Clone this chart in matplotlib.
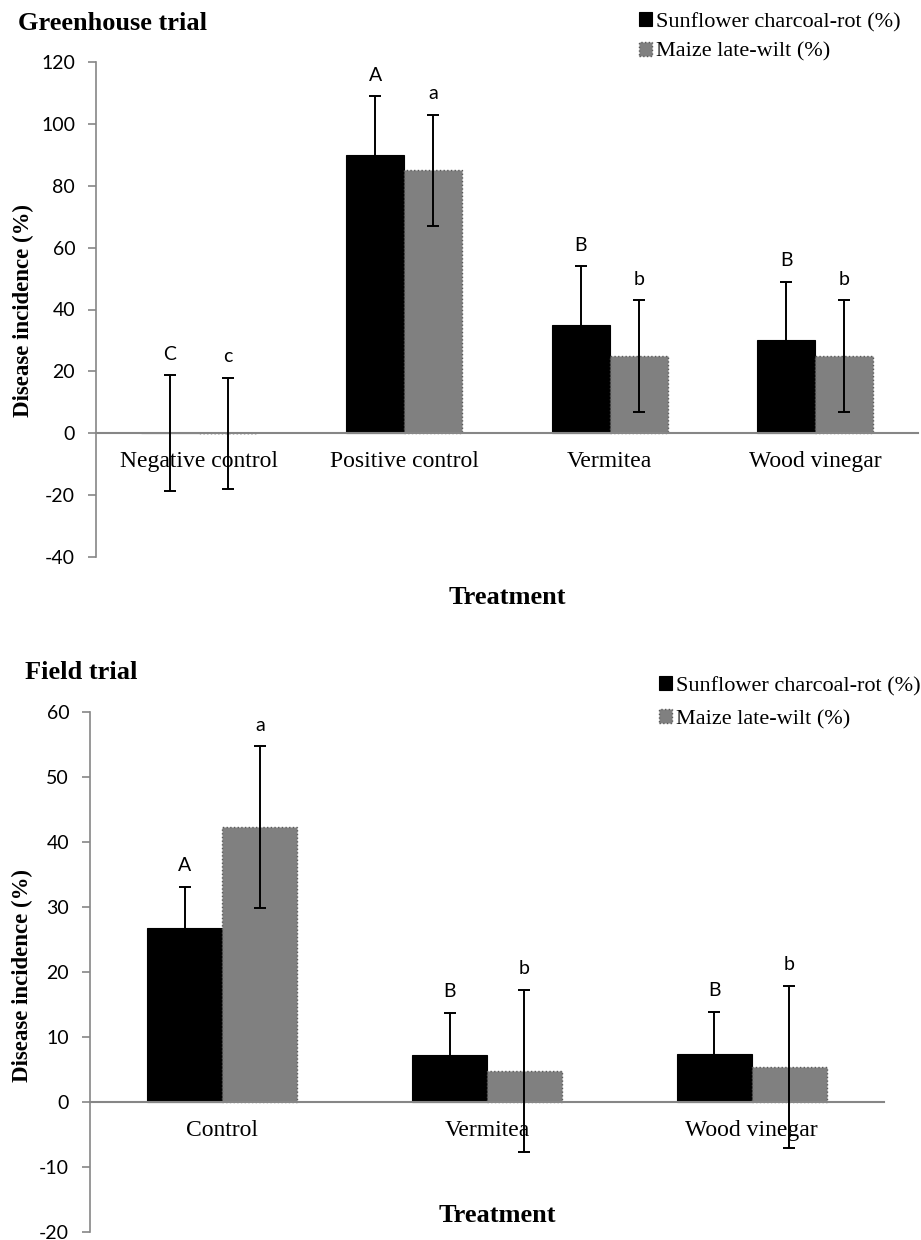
import matplotlib.pyplot as plt
import numpy as np

plt.rcParams['axes.unicode_minus'] = False

# Greenhouse trial
gh_treatments = ["Negative control", "Positive control", "Vermitea", "Wood vinegar"]
gh_sunflower = [0, 90, 35, 30]
gh_sunflower_err = [18.7, 19, 19, 19]
gh_maize = [0, 85, 25, 25]
gh_maize_err = [18, 18, 18, 18]
gh_sun_letters = ["C", "A", "B", "B"]
gh_maize_letters = ["c", "a", "b", "b"]

# Field trial
fd_treatments = ["Control", "Vermitea", "Wood vinegar"]
fd_sunflower = [26.7, 7.2, 7.4]
fd_sunflower_err = [6.4, 6.5, 6.5]
fd_maize = [42.3, 4.8, 5.4]
fd_maize_err = [12.4, 12.5, 12.5]
fd_sun_letters = ["A", "B", "B"]
fd_maize_letters = ["a", "b", "b"]

series_names = ["Sunflower charcoal-rot (%)", "Maize late-wilt (%)"]

serif = "Liberation Serif"
sans = "Lato"
axis_grey = "#868686"
W = 921
H = 1240


def fx(px):
    return px / W


def fy(px):
    return 1 - px / H


def draw_panel(ax, cats, sun, sun_err, maize, maize_err, sun_lab, maize_lab,
               ylim, yticks, width=0.283):
    x = np.arange(len(cats))
    ax.bar(x - width / 2, sun, width, color="black", edgecolor="black",
           linewidth=0.8, label=series_names[0], zorder=2)
    ax.bar(x + width / 2, maize, width, color="#808080", edgecolor="#5a5a5a",
           linewidth=1.0, linestyle=":", label=series_names[1], zorder=2)
    ax.errorbar(x - width / 2, sun, yerr=sun_err, fmt="none", ecolor="black",
                elinewidth=1.4, capsize=4, capthick=1.4, zorder=3)
    ax.errorbar(x + width / 2, maize, yerr=maize_err, fmt="none", ecolor="black",
                elinewidth=1.4, capsize=4, capthick=1.4, zorder=3)
    for i in range(len(cats)):
        ax.annotate(sun_lab[i], (x[i] - width / 2, sun[i] + sun_err[i]),
                    xytext=(0, 9), textcoords="offset points", ha="center",
                    va="bottom", fontsize=14, family=sans)
        ax.annotate(maize_lab[i], (x[i] + width / 2, maize[i] + maize_err[i]),
                    xytext=(0, 9), textcoords="offset points", ha="center",
                    va="bottom", fontsize=14, family=sans)

    for s in ["top", "right"]:
        ax.spines[s].set_visible(False)
    ax.spines["bottom"].set_position(("data", 0))
    ax.spines["bottom"].set_color(axis_grey)
    ax.spines["bottom"].set_linewidth(1.5)
    ax.spines["left"].set_color(axis_grey)
    ax.spines["left"].set_linewidth(1.2)

    ax.set_xlim(-0.5, len(cats) - 0.5)
    ax.set_ylim(*ylim)
    ax.set_yticks(yticks)
    ax.set_yticklabels([str(v) for v in yticks], family=sans, fontsize=14)
    ax.set_xticks(x)
    ax.set_xticklabels(cats, family=serif, fontsize=17)
    ax.tick_params(axis="x", length=0, pad=13)
    ax.tick_params(axis="y", length=6, width=1.2, color=axis_grey, pad=9)


fig = plt.figure(figsize=(9.21, 12.4), dpi=100)

# top panel
ax1 = fig.add_axes([fx(96), fy(557), fx(918 - 96), fy(62) - fy(557)])
draw_panel(ax1, gh_treatments, gh_sunflower, gh_sunflower_err, gh_maize,
           gh_maize_err, gh_sun_letters, gh_maize_letters,
           (-40, 120), list(range(-40, 121, 20)))

# bottom panel
ax2 = fig.add_axes([fx(90), fy(1232), fx(884 - 90), fy(712) - fy(1232)])
draw_panel(ax2, fd_treatments, fd_sunflower, fd_sunflower_err, fd_maize,
           fd_maize_err, fd_sun_letters, fd_maize_letters,
           (-20, 60), list(range(-20, 61, 10)))

# titles
fig.text(fx(18), fy(24), "Greenhouse trial", family=serif, weight="bold",
         fontsize=19, va="center", ha="left")
fig.text(fx(25), fy(672), "Field trial", family=serif, weight="bold",
         fontsize=19, va="center", ha="left")

# axis titles
fig.text(fx(23), fy(311), "Disease incidence (%)", family=serif, weight="bold",
         fontsize=16.5, rotation=90, va="center", ha="center")
fig.text(fx(22), fy(975), "Disease incidence (%)", family=serif, weight="bold",
         fontsize=16.5, rotation=90, va="center", ha="center")
fig.text(fx(507), fy(598), "Treatment", family=serif, weight="bold",
         fontsize=19, va="center", ha="center")
fig.text(fx(497), fy(1215), "Treatment", family=serif, weight="bold",
         fontsize=19, va="center", ha="center")

# legends
h, l = ax1.get_legend_handles_labels()
fig.legend(h, l, loc="upper left", bbox_to_anchor=(fx(628), fy(1)),
           frameon=False, prop={"family": serif, "size": 16},
           handlelength=0.6, handleheight=0.6, handletextpad=0.15,
           labelspacing=0.45, borderpad=0)
h, l = ax2.get_legend_handles_labels()
fig.legend(h, l, loc="upper left", bbox_to_anchor=(fx(648), fy(665)),
           frameon=False, prop={"family": serif, "size": 16},
           handlelength=0.6, handleheight=0.6, handletextpad=0.15,
           labelspacing=0.6, borderpad=0)

plt.savefig("out.png", dpi=100)
